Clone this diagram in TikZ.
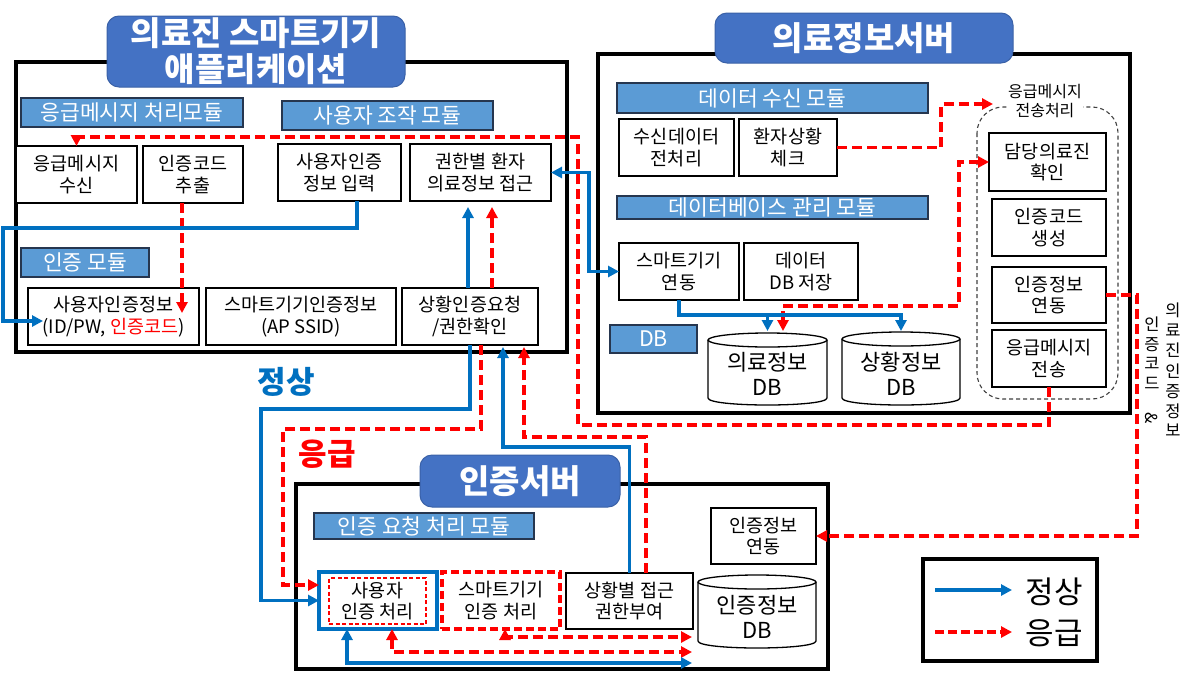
\documentclass[tikz,border=0pt]{standalone}
\usepackage{fontspec}
\setmainfont{Noto Sans CJK KR}
\usetikzlibrary{arrows.meta,calc}
\definecolor{ttlc}{HTML}{4472C4}
\definecolor{barc}{HTML}{5B9BD5}
\definecolor{barline}{HTML}{26364F}
\definecolor{nb}{HTML}{0070C0}
\definecolor{er}{HTML}{FF0000}
\newcommand\bx[7][]{\node[box,minimum width={(#5)-(#3)},minimum height={(#6)-(#4)},#1] (#2) at ({((#3)+(#5))/2},{((#4)+(#6))/2}) {#7};}
\newcommand\cyl[6]{%
\node[cylt] (#1) at ({((#2)+(#4))/2},{((#3)+(#5))/2+5}) {#6};
\draw[line width=1.3pt] (#2,{(#3)+7}) -- (#2,{(#5)-7}) .. controls (#2,{(#5)+2.33}) and (#4,{(#5)+2.33}) .. (#4,{(#5)-7}) -- (#4,{(#3)+7});
\draw[line width=1.3pt] ({((#2)+(#4))/2},{(#3)+7}) ellipse[x radius={((#4)-(#2))/2},y radius=7];
}
\tikzset{
 box/.style={draw=black,line width=1.3pt,fill=white,inner sep=0pt,outer sep=0pt,align=center,text=black,font={\fontsize{18.5}{21.5}\selectfont}},
 barn/.style={box,fill=barc,draw=barline,line width=1.4pt,text=white,font={\fontsize{21.5}{23}\selectfont}},
 ttln/.style={box,fill=ttlc,draw=ttlc!85!black,line width=1pt,rounded corners=12pt,text=white,font={\bfseries\fontsize{33}{36}\selectfont}},
 grp/.style={box,fill=none,line width=4pt},
 tipA/.tip={Triangle[length=11pt,width=11pt]},
 nl/.style={draw=nb,line width=3.5pt,-tipA},
 el/.style={draw=er,line width=3.5pt,dash pattern=on 10pt off 5pt,-tipA},
 both/.style={tipA-tipA},
 cylt/.style={inner sep=0pt,align=center,font={\fontsize{22}{25}\selectfont}},
 small/.style={inner sep=1pt,fill=white,align=center,font={\fontsize{16}{18.5}\selectfont}},
 vert/.style={inner sep=0pt,align=center,font={\fontsize{16.5}{19.7}\selectfont}},
}
\begin{document}
\begin{tikzpicture}[x=1pt,y=-1pt]
\useasboundingbox (0,0) rectangle (1201,672);
\fill[white] (0,0) rectangle (1201,672);

% ---------- groups ----------
\bx[grp]{app}{16}{62}{567}{352}{}
\bx[grp]{srv}{598}{54}{1130}{413}{}
\bx[grp]{auth}{296}{484}{828}{669}{}
\bx[grp]{leg}{923}{559}{1097}{661}{}

% ---------- titles ----------
\bx[ttln]{appT}{107}{16}{405}{87}{의료진 스마트기기\\애플리케이션}
\bx[ttln]{srvT}{715}{13}{1013}{63}{의료정보서버}
\bx[ttln]{authT}{420}{455}{620}{507}{인증서버}

% ---------- app ----------
\bx[barn]{b1}{21}{98}{243}{127}{응급메시지 처리모듈}
\bx[barn]{b2}{282}{101}{493}{130}{사용자 조작 모듈}
\bx[barn]{b3}{21}{248}{149}{277}{인증 모듈}
\bx{rcv}{16}{146}{137}{203}{응급메시지\\수신}
\bx{ext}{143}{146}{243}{203}{인증코드\\추출}
\bx{inp}{278}{144}{401}{201}{사용자인증\\정보 입력}
\bx{acc}{410}{144}{551}{201}{권한별 환자\\의료정보 접근}
\bx{uai}{28}{288}{199}{345}{사용자인증정보\\(ID/PW, \textcolor{er}{인증코드})}
\bx{sai}{206}{288}{396}{345}{스마트기기인증정보\\(AP SSID)}
\bx{req}{402}{288}{538}{345}{상황인증요청\\/권한확인}

% ---------- medical server ----------
\bx[barn]{b4}{617}{83}{928}{113}{데이터 수신 모듈}
\bx{pre}{619}{119}{734}{176}{수신데이터\\전처리}
\bx{chk}{739}{119}{837}{176}{환자상황\\체크}
\bx[barn]{b5}{617}{196}{928}{219}{데이터베이스 관리 모듈}
\bx{sync}{619}{243}{739}{300}{스마트기기\\연동}
\bx{store}{744}{243}{858}{300}{데이터\\DB 저장}
\bx[barn]{b6}{610}{325}{697}{353}{DB}
\cyl{mdb}{708}{333}{827}{405}{의료정보\\DB}
\cyl{sdb}{842}{332}{960}{405}{상황정보\\DB}
\draw[draw=black!75,line width=1.1pt,dash pattern=on 4pt off 3pt,rounded corners=26pt] (977,107) rectangle (1118,399);
\node[small] (lbl) at (1045,101) {응급메시지\\전송처리};
\bx{doc}{989}{133}{1106}{191}{담당의료진\\확인}
\bx{gen}{992}{199}{1106}{256}{인증코드\\생성}
\bx{link}{992}{267}{1106}{323}{인증정보\\연동}
\bx{send}{992}{330}{1106}{387}{응급메시지\\전송}
\node[vert] (v1) at (1173,370) {의\\료\\진\\[2pt]인\\증\\정\\보};
\node[vert] (v2) at (1152,370) {인\\증\\코\\드\\[3pt]\rotatebox{-90}{\&}};

% ---------- auth server ----------
\bx[barn]{b7}{314}{513}{534}{539}{인증 요청 처리 모듈}
\bx[draw=nb,line width=3.5pt]{uproc}{319}{572}{437}{629}{}
\bx[draw=er,line width=2.2pt,dash pattern=on 4pt off 2.5pt]{uin}{329}{578}{426}{624}{사용자\\인증 처리}
\bx[draw=er,line width=3.5pt,dash pattern=on 8pt off 4pt]{sproc}{442}{572}{560}{629}{스마트기기\\인증 처리}
\bx{grant}{566}{573}{693}{629}{상황별 접근\\권한부여}
\bx{alink}{711}{508}{816}{564}{인증정보\\연동}
\cyl{adb}{698}{575}{816}{648}{인증정보\\DB}

% ---------- free labels ----------
\node[text=nb,font={\bfseries\fontsize{31}{34}\selectfont}] (lnorm) at (286,382) {정상};
\node[text=er,font={\bfseries\fontsize{31}{34}\selectfont}] (lemer) at (327,454) {응급};

% ---------- connectors: app ----------
\draw[el] (send.south) -- (1049,425) -- (578,425) -- (578,137) -- (76.5,137) -- (rcv.north);
\draw[el] ([xshift=-11pt]ext.south) -- ++(0,110);
\draw[nl] ([xshift=17.5pt]inp.south) -- (357,228) -- (3,228) -- (3,321) -- ([xshift=15pt,yshift=-4.5pt]uai.west);
\draw[nl] ([xshift=-2pt]req.north) -- ([xshift=-12.5pt,yshift=-6pt]acc.south);
\draw[el] ([xshift=22pt]req.north) -- ([xshift=11.5pt,yshift=-6pt]acc.south);
\draw[nl,both] (acc.east) -- (589,172.5) |- (sync.west);

% ---------- connectors: app <-> auth ----------
\draw[nl] (req.south) -- (470,409) -- (261,409) |- (uproc.west);
\draw[el] ([xshift=11pt]req.south) -- (481,429) -- (283,429) |- ([yshift=15.5pt]uproc.west);
\draw[nl] (grant.north) -- (629.5,447) -- (503,447) -- ([xshift=33pt,yshift=-2pt]req.south);
\draw[el] ([xshift=16.5pt]grant.north) -- (646,437) -- (524,437) -- ([xshift=54pt,yshift=-2pt]req.south);

% ---------- connectors: server ----------
\draw[el] (chk.east) -- (941,147.5) -- (941,104) -- (993,104);
\draw[el,both] (783,331) -- (783,306) -- (959,306) |- (doc.west);
\draw[nl] (sync.south) -- (679,315) -- (901,315) -- (901,331);
\draw[nl] (767.5,315) -- (767.5,331);
\draw[el] (link.east) -- (1137,295) |- (alink.east);

% ---------- connectors: auth ----------
\draw[el,both] ([xshift=4pt]sproc.south) |- (692,637);
\draw[el,both] ([xshift=14pt]uproc.south) |- (692,652);
\draw[nl,both] ([xshift=-31pt]uproc.south) |- (692,663);

% ---------- legend ----------
\coordinate (la1) at (935,590); \coordinate (la2) at (1012,590);
\coordinate (lb1) at (935,632); \coordinate (lb2) at (1012,632);
\draw[nl] (la1) -- (la2);
\draw[el,dash pattern=on 9pt off 4pt] (lb1) -- (lb2);
\node[font={\fontsize{31}{34}\selectfont}] (lt1) at (1054,592) {정상};
\node[font={\fontsize{31}{34}\selectfont}] (lt2) at (1054,633) {응급};
\end{tikzpicture}
\end{document}
